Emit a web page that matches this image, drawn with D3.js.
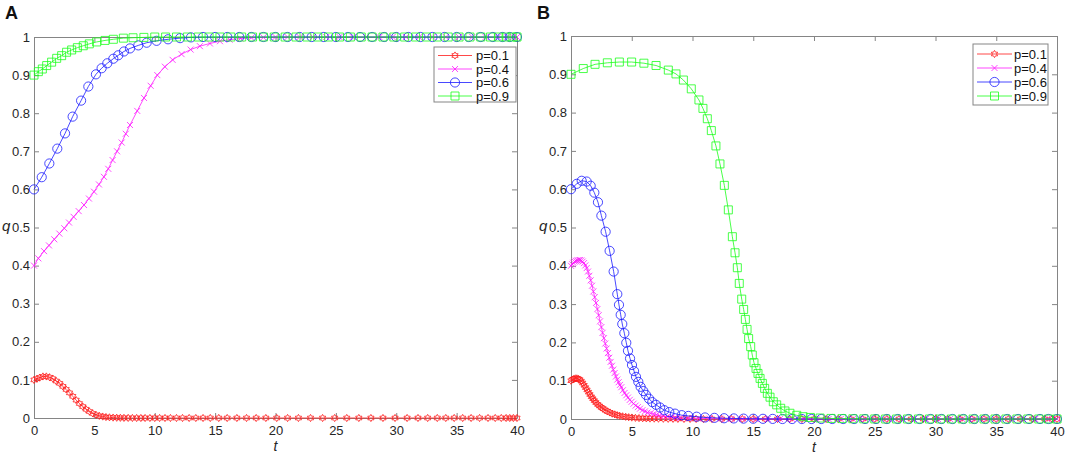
<!DOCTYPE html>
<html>
<head>
<meta charset="utf-8">
<script src="https://cdn.jsdelivr.net/npm/d3@7"></script>
<style>
  body { margin: 0; background: #fff; }
  svg { display: block; }
  text { font-family: "Liberation Sans", Arial, sans-serif; }
</style>
</head>
<body>
<div id="chart"></div>
<script>
// tick values and legend labels
const xTicks = [0, 5, 10, 15, 20, 25, 30, 35, 40];
const yTicks = [0, 0.1, 0.2, 0.3, 0.4, 0.5, 0.6, 0.7, 0.8, 0.9, 1];
const legendLabels = ["p=0.1", "p=0.4", "p=0.6", "p=0.9"];

// panel A, [t, q]
const aP01 = [[0,0.1],[0.25,0.103],[0.47,0.106],[0.74,0.109],[1.02,0.109],[1.29,0.107],[1.57,0.103],[1.84,0.097],[2.12,0.091],[2.39,0.083],[2.66,0.075],[2.94,0.066],[3.21,0.057],[3.49,0.047],[3.76,0.038],[4.04,0.03],[4.31,0.023],[4.59,0.017],[4.86,0.012],[5.14,0.008],[5.41,0.0056],[5.69,0.0038],[5.96,0.0025],[6.25,0.0017],[6.55,0.0011],[6.85,0.0007],[7.15,0.0005],[7.45,0.0003],[7.8,0.0002],[8.15,0.0001],[8.5,0],[8.85,0],[9.2,0],[9.6,0],[10,0],[10.4,0],[10.85,0],[11.3,0],[11.8,0],[12.3,0],[12.85,0],[13.4,0],[14,0],[14.6,0],[15.3,0],[16,0],[16.8,0],[17.6,0],[18.4,0],[19.2,0],[20.1,0],[21,0],[21.9,0],[22.9,0],[23.9,0],[24.9,0],[25.9,0],[26.9,0],[27.9,0],[28.9,0],[29.9,0],[30.9,0],[31.8,0],[32.6,0],[33.4,0],[34.1,0],[34.8,0],[35.5,0],[36.2,0],[36.9,0],[37.6,0],[38.2,0],[38.7,0],[39.1,0],[39.4,0],[39.7,0],[40,0]];
const aP04 = [[0,0.4],[0.36,0.419],[0.83,0.438],[1.24,0.453],[1.68,0.469],[2.1,0.484],[2.51,0.498],[2.9,0.513],[3.28,0.528],[3.7,0.543],[4.14,0.559],[4.55,0.576],[4.97,0.594],[5.38,0.613],[5.79,0.633],[6.15,0.654],[6.51,0.677],[6.88,0.7],[7.26,0.723],[7.6,0.746],[7.95,0.769],[8.55,0.806],[9.11,0.84],[9.66,0.872],[10.21,0.9],[10.84,0.922],[11.48,0.94],[12.22,0.955],[12.97,0.967],[13.74,0.976],[14.57,0.983],[15.4,0.989],[16.2,0.993],[17.1,0.996],[18,0.998],[19,0.999],[20,1],[21,1],[22,1],[23.1,1],[24.2,1],[25.3,1],[26.4,1],[27.5,1],[28.6,1],[29.7,1],[30.8,1],[31.9,1],[33,1],[34.1,1],[35.2,1],[36.3,1],[37.4,1],[38.4,1],[39.2,1],[39.7,1],[40,1]];
const aP06 = [[0,0.6],[0.64,0.632],[1.27,0.668],[1.93,0.707],[2.57,0.747],[3.2,0.791],[3.9,0.833],[4.5,0.87],[5.13,0.902],[5.6,0.918],[6.07,0.931],[6.57,0.943],[6.98,0.952],[7.45,0.962],[7.95,0.97],[8.64,0.978],[9.33,0.985],[10.15,0.99],[11.1,0.994],[12.1,0.997],[13,0.999],[14,1],[15,1],[16,1],[17,1],[18,1],[19,1],[20,1],[21,1],[22,1],[23,1],[24,1],[25,1],[26,1],[27,1],[28,1],[29,1],[30,1],[31,1],[32,1],[33,1],[34,1],[35,1],[36,1],[37,1],[38,1],[38.8,1],[39.4,1],[40,1]];
const aP09 = [[0,0.9],[0.36,0.909],[0.69,0.916],[1.05,0.925],[1.46,0.934],[1.88,0.944],[2.29,0.951],[2.7,0.96],[3.12,0.966],[3.59,0.972],[4.08,0.977],[4.58,0.982],[5.19,0.987],[5.88,0.991],[6.57,0.994],[7.4,0.997],[8.2,0.998],[9.1,0.999],[10,1],[10.9,1],[11.8,1],[12.7,1],[13.6,1],[14.5,1],[15.4,1],[16.3,1],[17.2,1],[18.1,1],[19,1],[19.9,1],[20.8,1],[21.7,1],[22.6,1],[23.5,1],[24.4,1],[25.3,1],[26.2,1],[27.1,1],[28,1],[28.9,1],[29.8,1],[30.7,1],[31.6,1],[32.5,1],[33.4,1],[34.3,1],[35.2,1],[36.1,1],[37,1],[37.8,1],[38.5,1],[39.1,1],[39.6,1],[40,1]];

// panel B, [t, q]
const bP01 = [[0,0.1],[0.12,0.103],[0.24,0.105],[0.36,0.106],[0.48,0.106],[0.6,0.105],[0.72,0.103],[0.84,0.099],[0.96,0.094],[1.08,0.088],[1.2,0.082],[1.32,0.076],[1.44,0.07],[1.56,0.064],[1.68,0.058],[1.8,0.053],[1.92,0.048],[2.05,0.043],[2.2,0.038],[2.35,0.034],[2.5,0.03],[2.65,0.027],[2.82,0.023],[3,0.02],[3.2,0.017],[3.4,0.014],[3.6,0.012],[3.8,0.01],[4,0.0085],[4.25,0.007],[4.5,0.0058],[4.75,0.0047],[5,0.0038],[5.3,0.003],[5.6,0.0024],[5.9,0.0019],[6.2,0.0015],[6.5,0.0012],[6.85,0.001],[7.2,0.0008],[7.6,0.0006],[8,0.0005],[8.4,0.0004],[8.8,0.0003],[9.3,0.0002],[9.8,0.0002],[10.3,0.0001],[10.9,0],[11.6,0],[12.4,0],[13.2,0],[14.1,0],[15,0],[16,0],[17,0],[18,0],[19,0],[20,0],[21,0],[22,0],[23,0],[24,0],[25,0],[26,0],[27,0],[28,0],[29,0],[30,0],[31,0],[32,0],[33,0],[34,0],[35,0],[36,0],[37,0],[38,0],[39,0],[39.6,0],[40,0]];
const bP04 = [[0,0.4],[0.1,0.404],[0.19,0.408],[0.3,0.411],[0.41,0.413],[0.52,0.414],[0.63,0.415],[0.74,0.415],[0.85,0.414],[0.96,0.411],[1.07,0.407],[1.18,0.401],[1.29,0.394],[1.4,0.385],[1.51,0.374],[1.62,0.362],[1.73,0.348],[1.84,0.333],[1.95,0.318],[2.06,0.303],[2.17,0.287],[2.28,0.271],[2.39,0.255],[2.5,0.24],[2.6,0.225],[2.71,0.211],[2.82,0.197],[2.93,0.184],[3.04,0.172],[3.15,0.16],[3.26,0.149],[3.37,0.139],[3.48,0.129],[3.59,0.12],[3.7,0.111],[3.81,0.103],[3.92,0.096],[4.03,0.089],[4.14,0.083],[4.27,0.075],[4.41,0.068],[4.55,0.062],[4.69,0.056],[4.84,0.05],[4.99,0.045],[5.15,0.04],[5.32,0.035],[5.5,0.031],[5.68,0.027],[5.88,0.023],[6.09,0.02],[6.3,0.017],[6.55,0.015],[6.8,0.013],[7.05,0.011],[7.3,0.009],[7.6,0.007],[7.95,0.006],[8.29,0.005],[8.6,0.004],[8.97,0.003],[9.7,0.002],[10.5,0.0015],[11.4,0.001],[12.3,0.0007],[13.2,0.0005],[14.1,0.0003],[15.2,0],[16.2,0],[17.2,0],[18.2,0],[19.2,0],[20.2,0],[21.2,0],[22.2,0],[23.2,0],[24.2,0],[25.2,0],[26.2,0],[27.2,0],[28.2,0],[29.2,0],[30.2,0],[31.2,0],[32.2,0],[33.2,0],[34.2,0],[35.2,0],[36.2,0],[37.2,0],[38.2,0],[39.2,0],[40,0]];
const bP06 = [[0,0.6],[0.47,0.614],[0.88,0.622],[1.29,0.62],[1.62,0.609],[1.92,0.591],[2.22,0.566],[2.5,0.531],[2.85,0.489],[3.18,0.439],[3.51,0.385],[3.81,0.326],[3.95,0.298],[4.09,0.272],[4.22,0.248],[4.39,0.224],[4.55,0.199],[4.69,0.178],[4.86,0.158],[5.02,0.141],[5.19,0.125],[5.35,0.11],[5.54,0.097],[5.73,0.084],[5.95,0.073],[6.17,0.063],[6.42,0.053],[6.69,0.044],[7,0.037],[7.33,0.03],[7.68,0.023],[8.09,0.018],[8.56,0.014],[9.11,0.01],[9.66,0.008],[10.34,0.006],[11.03,0.004],[11.8,0.003],[12.6,0.002],[13.4,0.0015],[14.2,0.001],[15,0.0007],[15.8,0.0005],[16.6,0.0003],[17.4,0],[18.2,0],[19,0],[19.8,0],[20.6,0],[21.5,0],[22.4,0],[23.3,0],[24.2,0],[25.1,0],[26,0],[26.9,0],[27.8,0],[28.7,0],[29.6,0],[30.5,0],[31.4,0],[32.3,0],[33.2,0],[34.1,0],[35,0],[35.9,0],[36.8,0],[37.7,0],[38.6,0],[39.3,0],[40,0]];
const bP09 = [[0,0.9],[1.01,0.915],[1.98,0.926],[2.99,0.93],[3.98,0.932],[4.99,0.932],[6,0.929],[7,0.923],[8.01,0.911],[8.64,0.901],[9.25,0.885],[9.9,0.862],[10.53,0.833],[10.86,0.811],[11.22,0.784],[11.55,0.753],[11.93,0.713],[12.26,0.666],[12.62,0.61],[12.95,0.546],[13.28,0.476],[13.5,0.434],[13.69,0.395],[13.85,0.354],[14.05,0.313],[14.21,0.286],[14.35,0.26],[14.49,0.234],[14.62,0.21],[14.79,0.189],[14.92,0.167],[15.06,0.147],[15.23,0.132],[15.39,0.119],[15.56,0.106],[15.75,0.093],[15.94,0.08],[16.16,0.067],[16.38,0.057],[16.65,0.045],[16.93,0.037],[17.26,0.028],[17.61,0.021],[18.02,0.015],[18.58,0.0097],[19.1,0.006],[19.7,0.004],[20.5,0.0025],[21.4,0.0015],[22.3,0.001],[23.2,0.0006],[24.1,0.0004],[25,0.0002],[25.9,0],[26.8,0],[27.7,0],[28.6,0],[29.5,0],[30.4,0],[31.3,0],[32.2,0],[33.1,0],[34,0],[34.9,0],[35.8,0],[36.7,0],[37.6,0],[38.5,0],[39.3,0],[40,0]];

const width = 1065, height = 454;

// line colour + marker per p (same order as the legend)
const seriesStyle = [
    { color: "#ff1a1a", marker: "hexagram" },
    { color: "#ff1aff", marker: "cross" },
    { color: "#1a1aff", marker: "circle" },
    { color: "#1aff1a", marker: "square" }
];

const markerPath = (type) => {
    if (type === "hexagram") {
        const R = 3.6, r = R / Math.sqrt(3), pts = [];
        for (let i = 0; i < 12; i++) {
            const a = Math.PI / 6 * i - Math.PI / 2;
            const rr = i % 2 ? r : R;
            pts.push([(rr * Math.cos(a)).toFixed(2), (rr * Math.sin(a)).toFixed(2)]);
        }
        return "M" + pts.join("L") + "Z";
    }
    if (type === "cross") return "M-3,-3L3,3M-3,3L3,-3";
    if (type === "circle") return "M4.6,0A4.6,4.6 0 1,1 -4.6,0A4.6,4.6 0 1,1 4.6,0Z";
    return "M-4,-4H4V4H-4Z";
};

const svg = d3.select("#chart")
    .append("svg")
    .attr("width", width)
    .attr("height", height);

function drawPanel(cfg) {
    const x = d3.scaleLinear().domain([0, 40]).range([cfg.left, cfg.right]);
    const y = d3.scaleLinear().domain([0, 1]).range([cfg.bottom, cfg.top]);
    const g = svg.append("g");

    /* axes: ticks inside on all four sides */
    const axisColor = "#858585";
    const styleAxis = (sel) => {
        sel.attr("color", axisColor)
            .attr("font-size", 13)
            .attr("font-family", "Liberation Sans, Arial, sans-serif");
        sel.selectAll("text").attr("fill", "#262626");
    };
    g.append("g")
        .attr("transform", `translate(0,${cfg.bottom})`)
        .call(d3.axisBottom(x).tickValues(xTicks).tickSize(-5).tickSizeOuter(0).tickPadding(8))
        .call(styleAxis);
    g.append("g")
        .attr("transform", `translate(0,${cfg.top})`)
        .call(d3.axisTop(x).tickValues(xTicks).tickSize(-5).tickSizeOuter(0).tickFormat(""))
        .call(styleAxis);
    g.append("g")
        .attr("transform", `translate(${cfg.left},0)`)
        .call(d3.axisLeft(y).tickValues(yTicks).tickSize(-5).tickSizeOuter(0).tickPadding(4).tickFormat(d3.format("~g")))
        .call(styleAxis);
    g.append("g")
        .attr("transform", `translate(${cfg.right},0)`)
        .call(d3.axisRight(y).tickValues(yTicks).tickSize(-5).tickSizeOuter(0).tickFormat(""))
        .call(styleAxis);

    // axis titles
    g.append("text")
        .attr("x", cfg.qX).attr("y", (cfg.top + cfg.bottom) / 2 + 3)
        .attr("font-family", "Liberation Serif, Times New Roman, serif")
        .attr("font-style", "italic").attr("font-size", 15)
        .attr("fill", "#262626")
        .text("q");
    g.append("text")
        .attr("x", (cfg.left + cfg.right) / 2).attr("y", cfg.bottom + 33)
        .attr("text-anchor", "middle")
        .attr("font-family", "Liberation Serif, Times New Roman, serif")
        .attr("font-style", "italic").attr("font-size", 14)
        .attr("fill", "#262626")
        .text("t");

    // panel letter
    g.append("text")
        .attr("x", cfg.letterX).attr("y", 19)
        .attr("font-weight", "bold").attr("font-size", 18)
        .attr("fill", "#111")
        .text(cfg.letter);

    /* series: line + markers */
    const line = d3.line().x(d => x(d[0])).y(d => y(d[1]));
    cfg.series.forEach((data, i) => {
        const st = seriesStyle[i];
        const sg = g.append("g");
        sg.append("path")
            .datum(data)
            .attr("d", line)
            .attr("fill", "none")
            .attr("stroke", st.color)
            .attr("stroke-width", 0.8);
        sg.selectAll("path.mk")
            .data(data)
            .join("path")
            .attr("class", "mk")
            .attr("transform", d => `translate(${x(d[0])},${y(d[1])})`)
            .attr("d", markerPath(st.marker))
            .attr("fill", "none")
            .attr("stroke", st.color)
            .attr("stroke-width", 0.8);
    });

    /* legend */
    const lg = cfg.legend;
    const leg = g.append("g");
    leg.append("rect")
        .attr("x", lg.x0).attr("y", lg.y0)
        .attr("width", lg.x1 - lg.x0).attr("height", lg.y1 - lg.y0)
        .attr("fill", "#fff")
        .attr("stroke", axisColor)
        .attr("stroke-width", 1);
    legendLabels.forEach((label, i) => {
        const st = seriesStyle[i];
        const cy = lg.rowY + i * lg.rowStep;
        leg.append("line")
            .attr("x1", lg.lineX0).attr("x2", lg.lineX1)
            .attr("y1", cy).attr("y2", cy)
            .attr("stroke", st.color).attr("stroke-width", 0.8);
        leg.append("path")
            .attr("transform", `translate(${(lg.lineX0 + lg.lineX1) / 2},${cy})`)
            .attr("d", markerPath(st.marker))
            .attr("fill", "none")
            .attr("stroke", st.color).attr("stroke-width", 0.8);
        leg.append("text")
            .attr("x", lg.textX).attr("y", cy + 4.5)
            .attr("font-size", 13)
            .attr("fill", "#111")
            .text(label);
    });
}

drawPanel({
    left: 34, right: 517, top: 37, bottom: 418,
    letter: "A", letterX: 5, qX: 2,
    series: [aP01, aP04, aP06, aP09],
    legend: { x0: 434, x1: 516, y0: 47, y1: 102, rowY: 55.5, rowStep: 13.5, lineX0: 438, lineX1: 472, textX: 476 }
});

drawPanel({
    left: 571, right: 1057, top: 36, bottom: 419,
    letter: "B", letterX: 537, qX: 539,
    series: [bP01, bP04, bP06, bP09],
    legend: { x0: 973, x1: 1048, y0: 44, y1: 105, rowY: 54, rowStep: 14, lineX0: 977, lineX1: 1012, textX: 1014 }
});
</script>
</body>
</html>
